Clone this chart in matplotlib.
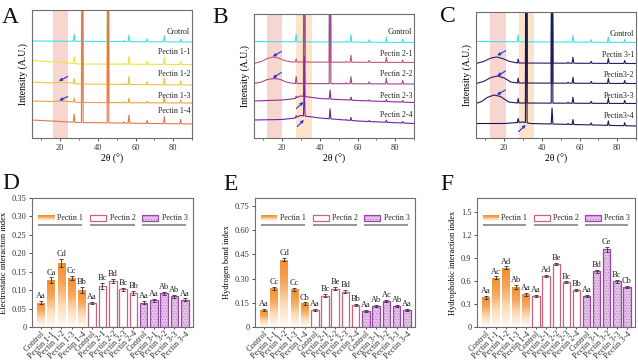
import numpy as np
import matplotlib
matplotlib.use("Agg")
import matplotlib.pyplot as plt
from matplotlib.patches import Rectangle
from matplotlib.colors import LinearSegmentedColormap
from matplotlib.ticker import MultipleLocator

plt.rcParams['font.family'] = ['Liberation Serif', 'DejaVu Serif']
plt.rcParams['hatch.linewidth'] = 0.4

# ---------------- XRD data (px-like intensity units) ----------------
PEAK_POS = [27.4, 31.7, 45.4, 53.9, 56.5, 66.2, 75.3, 84.0]

A_LABELS = ["Crotrol", "Pectin 1-1", "Pectin 1-2", "Pectin 1-3", "Pectin 1-4"]
A_LABEL_Y = [105.5, 85.5, 64.5, 42, 27]
A_BASE = [
    [(5, 97), (90, 96)],
    [(5, 77.5), (25, 75), (30, 74), (90, 73.5)],
    [(5, 56), (15, 55), (20, 55.8), (24, 55.3), (30, 54), (90, 53)],
    [(5, 37), (16, 36.5), (20, 37.2), (24, 36.6), (30, 35.5), (90, 35)],
    [(5, 18), (30, 15.5), (90, 14)],
]
A_PEAKS = [
    [7, 200, 200, 1, 6.5, 3, 6, 3],
    [7, 200, 200, 1, 8, 3, 7, 3],
    [5, 200, 200, 1, 8, 3, 6.5, 4],
    [4, 200, 200, 1, 4.5, 1.5, 6, 3],
    [8, 200, 200, 1.5, 8, 3, 7, 4.5],
]
A_COLORS = ["#3fe3ea", "#f2e33a", "#f5c23c", "#f1a043", "#e5774d"]
A_ARROWS = [((24, 61.5), (19.3, 57)), ((24, 41.5), (19.5, 37.5))]

B_LABELS = ["Control", "Pectin 2-1", "Pectin 2-2", "Pectin 2-3", "Pectin 2-4"]
B_LABEL_Y = [105.5, 84.5, 64, 41.5, 23]
B_BASE = [
    [(5, 96.5), (90, 95.5)],
    [(5, 74.5), (9, 76.5), (12, 79.5), (15, 81), (18, 80), (21, 77.5), (25, 76), (90, 75.5)],
    [(5, 54.5), (9, 56), (12, 58.5), (16, 59.5), (19, 58.5), (22, 56), (26, 54.5), (90, 54)],
    [(5, 37), (20, 38), (27, 39.5), (29.5, 42), (34, 41), (40, 39.5), (60, 37.5), (90, 35.5)],
    [(5, 18), (20, 18.5), (27, 20), (29.5, 22.5), (34, 21.5), (40, 20), (60, 17), (90, 14.5)],
]
B_PEAKS = [
    [7.5, 200, 200, 1, 7.5, 2.5, 5, 3.5],
    [3, 200, 200, 1, 7, 2, 5, 2.5],
    [7, 200, 200, 1, 7, 2, 5.5, 3.5],
    [2, 40, 9, 0.5, 3, 1, 2, 1.5],
    [2, 30, 10, 0.5, 3, 1, 2, 1.5],
]
B_COLORS = ["#3fe3ea", "#c35a7a", "#a8478a", "#8a2c9e", "#6c22a6"]
B_ARROWS = [((19.5, 86.5), (15, 81.5)), ((19.5, 65.5), (15, 60)),
            ((27.5, 29.5), (31.2, 36)), ((28, 11.5), (31.5, 18))]

C_LABELS = ["Control", "Pectin 3-1", "Pectin3-2", "Pectin3-3", "Pectin3-4"]
C_LABEL_Y = [104.5, 83, 63, 42, 22]
C_BASE = [
    [(5, 96.5), (90, 95.5)],
    [(5, 74.5), (9, 76.5), (13, 80), (16, 81), (19, 79.5), (23, 76.5), (27, 75), (90, 74.5)],
    [(5, 54.5), (9, 56.5), (13, 60.5), (16.4, 62), (20, 60), (23.5, 56), (27, 55), (90, 54.5)],
    [(5, 34.5), (8, 36.5), (11, 40.5), (14.5, 43), (18, 41.5), (22.4, 36), (27, 35), (90, 34.5)],
    [(5, 14.5), (20, 14.5), (27, 15.5), (30, 16), (34, 14.5), (90, 12)],
]
C_PEAKS = [
    [7, 200, 200, 1, 6.5, 2.5, 5.5, 3],
    [4, 200, 200, 1, 6, 2, 5, 3],
    [5, 200, 200, 1, 6, 2, 5, 3],
    [4.5, 200, 200, 1, 6, 2, 5, 3],
    [4, 200, 16, 1, 5, 2, 4.5, 3],
]
C_COLORS = ["#3fe3ea", "#2e1b66", "#2a1860", "#26165a", "#221452"]
C_ARROWS = [((20.7, 87.3), (16.3, 82.5)), ((20.7, 67), (16.3, 62.2)),
            ((20.6, 48), (16.1, 43.2)), ((27.6, 6.3), (31.4, 13))]

# ---------------- bar data ----------------
BAR_LABELS = ["Control", "Pectin 1-1", "Pectin 1-2", "Pectin 1-3", "Pectin 1-4",
              "Control", "Pectin 2-1", "Pectin 2-2", "Pectin 2-3", "Pectin 2-4",
              "Control", "Pectin 3-1", "Pectin 3-2", "Pectin 3-3", "Pectin 3-4"]
GROUPS = ["Pectin 1", "Pectin 2", "Pectin 3"]

ELEC = [0.066, 0.127, 0.174, 0.133, 0.100, 0.066, 0.112, 0.125, 0.103, 0.093,
        0.066, 0.072, 0.091, 0.084, 0.074]
ELEC_ERR = [0.004, 0.008, 0.010, 0.005, 0.008, 0.003, 0.008, 0.006, 0.004, 0.006,
            0.004, 0.005, 0.005, 0.004, 0.004]
ELEC_SIG = ["Aa", "Ca", "Cd", "Cc", "Bb", "Aa", "Bc", "Bd", "Bc", "Bb",
            "Aa", "Aa", "Ab", "Ab", "Aa"]

HBOND = [0.104, 0.240, 0.418, 0.234, 0.146, 0.104, 0.194, 0.238, 0.220, 0.136,
         0.102, 0.130, 0.160, 0.128, 0.106]
HBOND_ERR = [0.007, 0.009, 0.010, 0.008, 0.007, 0.006, 0.009, 0.011, 0.010, 0.007,
             0.006, 0.006, 0.008, 0.007, 0.007]
HBOND_SIG = ["Aa", "Cc", "Cd", "Cc", "Cb", "Aa", "Bc", "Be", "Bd", "Bb",
             "Aa", "Ab", "Ac", "Ab", "Aa"]

HYDRO = [0.39, 0.64, 0.77, 0.525, 0.425, 0.40, 0.66, 0.82, 0.585, 0.48,
         0.40, 0.725, 1.01, 0.595, 0.52]
HYDRO_ERR = [0.02, 0.02, 0.02, 0.025, 0.015, 0.015, 0.015, 0.015, 0.01, 0.015,
             0.015, 0.02, 0.03, 0.02, 0.015]
HYDRO_SIG = ["Aa", "Ac", "Ad", "Ab", "Aa", "Aa", "Ad", "Be", "Bc", "Bb",
             "Aa", "Bd", "Ce", "Bc", "Cb"]

W, H = 638, 360
fig = plt.figure(figsize=(W / 100, H / 100), dpi=100)
fig.patch.set_facecolor('white')

FRAME = '#6e6e6e'
ORANGE_CMAP = LinearSegmentedColormap.from_list(
    'pect1', ['#fffaf4', '#fcdcb8', '#f6a65a', '#f28d30'])


def px_axes(left, top, right, bottom):
    return fig.add_axes([left / W, 1 - bottom / H, (right - left) / W, (bottom - top) / H])


def style_frame(ax):
    for s in ax.spines.values():
        s.set_color(FRAME)
        s.set_linewidth(0.8)
    ax.tick_params(colors='#333333', labelsize=6, direction='out', length=2.5,
                   width=0.6, pad=1.5)
    ax.tick_params(which='minor', length=1.5, width=0.5, colors='#333333')


def build_trace(anchors, heights, half=0.45):
    bx = [p[0] for p in anchors]
    by = [p[1] for p in anchors]
    xs, ys = list(bx), list(by)
    for p, h in zip(PEAK_POS, heights):
        for xx in (p - half, p + half):
            xs.append(xx)
            ys.append(np.interp(xx, bx, by))
        xs.append(p)
        ys.append(np.interp(p, bx, by) + h)
    order = np.argsort(xs, kind='stable')
    return np.array(xs)[order], np.array(ys)[order]


def xrd_panel(box, height, bands, bases, peaks, colors, labels, label_y, arrows):
    ax = px_axes(*box)
    for lo, hi, c in bands:
        ax.axvspan(lo, hi, color=c, lw=0, zorder=0)
    for base, pk, col in zip(bases, peaks, colors):
        x, y = build_trace(base, pk)
        ax.plot(x, y, color=col, lw=0.8, zorder=2)
    for lab, ly in zip(labels, label_y):
        ax.text(89, ly, lab, ha='right', va='center', fontsize=5.8, color='#222222', zorder=3)
    for tail, head in arrows:
        ax.annotate('', xy=head, xytext=tail,
                    arrowprops=dict(arrowstyle='-|>', color='#2436e0', lw=0.8,
                                    mutation_scale=4, shrinkA=0, shrinkB=0), zorder=4)
    ax.set_xlim(5, 90)
    ax.set_ylim(0, height)
    ax.set_yticks([])
    ax.xaxis.set_major_locator(MultipleLocator(20))
    ax.xaxis.set_minor_locator(MultipleLocator(10))
    style_frame(ax)
    ax.set_xlabel('2θ (°)', fontsize=7, labelpad=2)
    ax.set_ylabel('Intensity (A.U.)', fontsize=7, labelpad=3)
    return ax


PINK = '#f7d6d0'
PEACH = '#fde4c9'
xrd_panel((32, 10, 192, 138), 128, [(16, 24, PINK)], A_BASE, A_PEAKS, A_COLORS,
          A_LABELS, A_LABEL_Y, A_ARROWS)
xrd_panel((254, 14, 414, 138), 124, [(11.8, 20, PINK), (27.5, 36, PEACH)], B_BASE,
          B_PEAKS, B_COLORS, B_LABELS, B_LABEL_Y, B_ARROWS)
xrd_panel((476, 12, 636, 138), 126, [(12.4, 20.9, PINK), (27.6, 36, PEACH)], C_BASE,
          C_PEAKS, C_COLORS, C_LABELS, C_LABEL_Y, C_ARROWS)

GRAD = np.linspace(0, 1, 64).reshape(-1, 1)
P2_EDGE = '#c9637f'
P3_FACE = '#e3c3e6'
P3_HATCH = '#b77bc2'
P3_EDGE = '#9a45a8'
BW = 0.74


def bar_panel(box, vals, errs, sigs, ymax, yticks, ytick_labels, ylabel, sig_off):
    ax = px_axes(*box)
    x = np.arange(len(vals))
    for i, (v, e) in enumerate(zip(vals, errs)):
        g = i // 5
        x0 = x[i] - BW / 2
        if g == 0:
            rect = Rectangle((x0, 0), BW, v, fc='none', ec='none')
            ax.add_patch(rect)
            im = ax.imshow(GRAD, extent=[x0, x0 + BW, 0, v], origin='lower',
                           cmap=ORANGE_CMAP, aspect='auto', zorder=2)
            im.set_clip_path(rect)
        elif g == 1:
            ax.bar(x[i], v, BW, color='white', edgecolor=P2_EDGE, lw=0.9, zorder=2)
        else:
            ax.bar(x[i], v, BW, color=P3_FACE, edgecolor=P3_HATCH, hatch='......',
                   lw=0, zorder=2)
            ax.bar(x[i], v, BW, fill=False, edgecolor=P3_EDGE, lw=0.9, zorder=3)
        ax.errorbar(x[i], v, yerr=e, fmt='none', ecolor='#333333', elinewidth=0.6,
                    capsize=1.3, capthick=0.6, zorder=4)
        ax.text(x[i], v + e + sig_off, sigs[i], ha='center', va='bottom',
                fontsize=6, color='#222222')

    # legend (drawn Origin-style)
    px0 = [0.037, 0.360, 0.683]
    tx0 = [0.155, 0.484, 0.805]
    lend = [0.31, 0.64, 0.957]
    y0, y1 = 0.822, 0.866
    for k, name in enumerate(GROUPS):
        if k == 0:
            r = Rectangle((px0[k], y0), 0.10, y1 - y0, transform=ax.transAxes,
                          fc='none', ec='none')
            ax.add_patch(r)
            im = ax.imshow(GRAD, extent=[px0[k], px0[k] + 0.10, y0, y1], origin='lower',
                           cmap=ORANGE_CMAP, aspect='auto', transform=ax.transAxes,
                           zorder=3)
            im.set_clip_path(r)
        elif k == 1:
            ax.add_patch(Rectangle((px0[k], y0), 0.10, y1 - y0, transform=ax.transAxes,
                                   fc='white', ec=P2_EDGE, lw=0.9, zorder=3))
        else:
            ax.add_patch(Rectangle((px0[k], y0), 0.10, y1 - y0, transform=ax.transAxes,
                                   fc=P3_FACE, ec=P3_HATCH, hatch='......', lw=0, zorder=3))
            ax.add_patch(Rectangle((px0[k], y0), 0.10, y1 - y0, transform=ax.transAxes,
                                   fill=False, ec=P3_EDGE, lw=0.9, zorder=3))
        ax.text(tx0[k], (y0 + y1) / 2, name, transform=ax.transAxes, fontsize=5.8,
                va='center', ha='left', color='#222222')
        ax.plot([px0[k], lend[k]], [0.787, 0.787], transform=ax.transAxes,
                color='#8c8c8c', lw=1.3, solid_capstyle='butt')

    ax.set_xlim(-0.85, len(vals) - 0.2)
    ax.set_ylim(0, ymax)
    ax.set_yticks(yticks)
    ax.set_yticklabels(ytick_labels)
    ax.set_xticks(x)
    ax.set_xticklabels(BAR_LABELS, rotation=45, ha='right', rotation_mode='anchor',
                       fontsize=4.4)
    style_frame(ax)
    ax.tick_params(axis='x', length=1.6, pad=0.4)
    ax.set_ylabel(ylabel, fontsize=6.0, labelpad=2.5)
    return ax


bar_panel((32, 198, 193, 327), ELEC, ELEC_ERR, ELEC_SIG, 0.35,
          [0, 0.05, 0.10, 0.15, 0.20, 0.25, 0.30, 0.35],
          ['0', '0.05', '0.10', '0.15', '0.20', '0.25', '0.30', '0.35'],
          'Electrostatic interaction index', 0.002)
bar_panel((255, 198, 415, 327), HBOND, HBOND_ERR, HBOND_SIG, 0.80,
          [0, 0.15, 0.30, 0.45, 0.60, 0.75],
          ['0', '0.15', '0.30', '0.45', '0.60', '0.75'],
          'Hydrogen bond index', 0.005)
bar_panel((477, 198, 635, 327), HYDRO, HYDRO_ERR, HYDRO_SIG, 1.68,
          [0, 0.3, 0.6, 0.9, 1.2, 1.5],
          ['0', '0.3', '0.6', '0.9', '1.2', '1.5'],
          'Hydrophobic interaction index', 0.01)

# panel letters
for letter, (lx, ly) in zip("ABCDEF", [(2, 23), (212, 23), (440, 22),
                                       (2, 189), (223, 190), (440, 190)]):
    fig.text(lx / W, 1 - ly / H, letter, fontsize=17, ha='left', va='baseline',
             color='#111111')

fig.savefig('out.png', dpi=100, facecolor='white')
